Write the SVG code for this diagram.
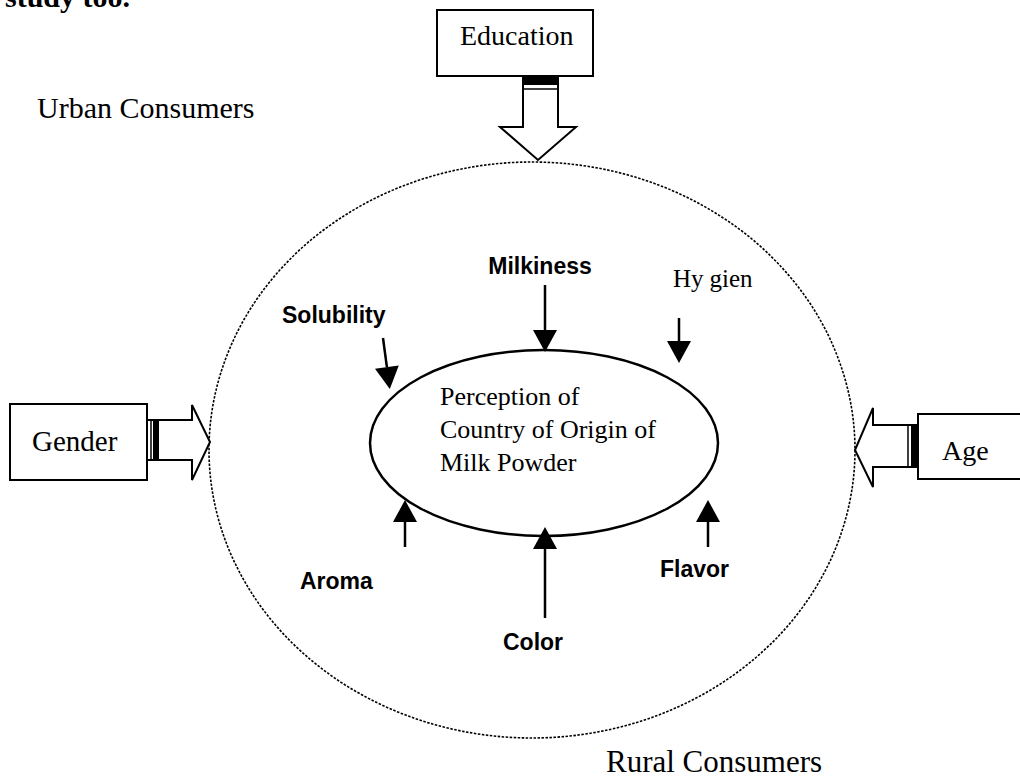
<svg xmlns="http://www.w3.org/2000/svg" width="1020" height="777" viewBox="0 0 1020 777">
<style>
.serif{font-family:"Liberation Serif","Times New Roman",serif;fill:#000}
.lbl{font-family:"Liberation Sans",Arial,sans-serif;font-weight:bold;font-size:23px;fill:#000}
.box{fill:#fff;stroke:#000;stroke-width:2}
.blk{fill:#fff;stroke:#000;stroke-width:2;stroke-linejoin:miter}
.band{fill:#000}
.conn{stroke:#000;stroke-width:2.5;fill:none;marker-end:url(#ah)}
</style>
<defs>
<marker id="ah" markerUnits="userSpaceOnUse" markerWidth="24" markerHeight="24" refX="0" refY="12" orient="auto" viewBox="0 0 22 24">
<path d="M0,0 L22,12 L0,24 z" fill="#000"/>
</marker>
</defs>
<rect width="1020" height="777" fill="#fff"/>
<text class="serif" x="5" y="7" font-size="30" font-weight="bold">study too.</text>

<g id="urban"><text class="serif" x="37" y="118" font-size="30">Urban Consumers</text></g>
<g id="rural"><text class="serif" x="606" y="772" font-size="31">Rural Consumers</text></g>

<g id="consumers-circle">
<ellipse cx="532" cy="450" rx="323" ry="288" fill="none" stroke="#000" stroke-width="1.6" stroke-dasharray="2.5 1.5"/>
</g>

<g id="education">
<rect class="box" x="437" y="10" width="156" height="66"/>
<text class="serif" x="460" y="45" font-size="28">Education</text>
</g>
<g id="gender">
<rect class="box" x="10" y="404" width="137" height="76"/>
<text class="serif" x="32" y="451" font-size="29">Gender</text>
</g>
<g id="age">
<rect class="box" x="918" y="414" width="110" height="65"/>
<text class="serif" x="942" y="460" font-size="28">Age</text>
</g>

<g id="perception">
<ellipse cx="544" cy="443" rx="174" ry="93" fill="none" stroke="#000" stroke-width="2.5"/>
<text class="serif" font-size="26"><tspan x="440" y="405">Perception of</tspan><tspan x="440" y="438">Country of Origin of</tspan><tspan x="440" y="471">Milk Powder</tspan></text>
</g>

<g id="labels">
<text class="lbl" x="540" y="274" text-anchor="middle" font-size="24">Milkiness</text>
<text class="lbl" x="282" y="323">Solubility</text>
<text class="serif" x="673" y="287" font-size="25">Hy<tspan dx="6">gien</tspan></text>
<text class="lbl" x="300" y="589" font-size="24">Aroma</text>
<text class="lbl" x="503" y="650">Color</text>
<text class="lbl" x="660" y="577">Flavor</text>
</g>

<g id="connectors">
<line class="conn" x1="545" y1="285" x2="545" y2="330"/>
<line class="conn" x1="383" y1="338" x2="386.9" y2="367.2"/>
<line class="conn" x1="679" y1="318" x2="679" y2="341"/>
<line class="conn" x1="405" y1="547" x2="405" y2="522"/>
<line class="conn" x1="545" y1="618" x2="545" y2="549"/>
<line class="conn" x1="708" y1="547" x2="708" y2="522"/>

<g id="edu-arrow">
<polygon class="blk" points="523,76 558,76 558,127 576,127 538,160 500,127 523,127"/>
<rect class="band" x="523" y="77" width="35" height="8"/>
<line x1="523" y1="89" x2="558" y2="89" stroke="#000" stroke-width="1.5"/>
</g>
<g id="gender-arrow">
<polygon class="blk" points="147,420 192,420 192,405 210,442 192,480 192,460 147,460"/>
<line x1="151" y1="420" x2="151" y2="460" stroke="#000" stroke-width="1.5"/>
<rect class="band" x="153" y="420" width="6" height="40"/>
</g>
<g id="age-arrow">
<polygon class="blk" points="918,425 873,425 873,408 855,450 873,487 873,467 918,467"/>
<line x1="908" y1="425" x2="908" y2="467" stroke="#000" stroke-width="1.5"/>
<rect class="band" x="911" y="425" width="7" height="42"/>
</g>
</g>
</svg>
